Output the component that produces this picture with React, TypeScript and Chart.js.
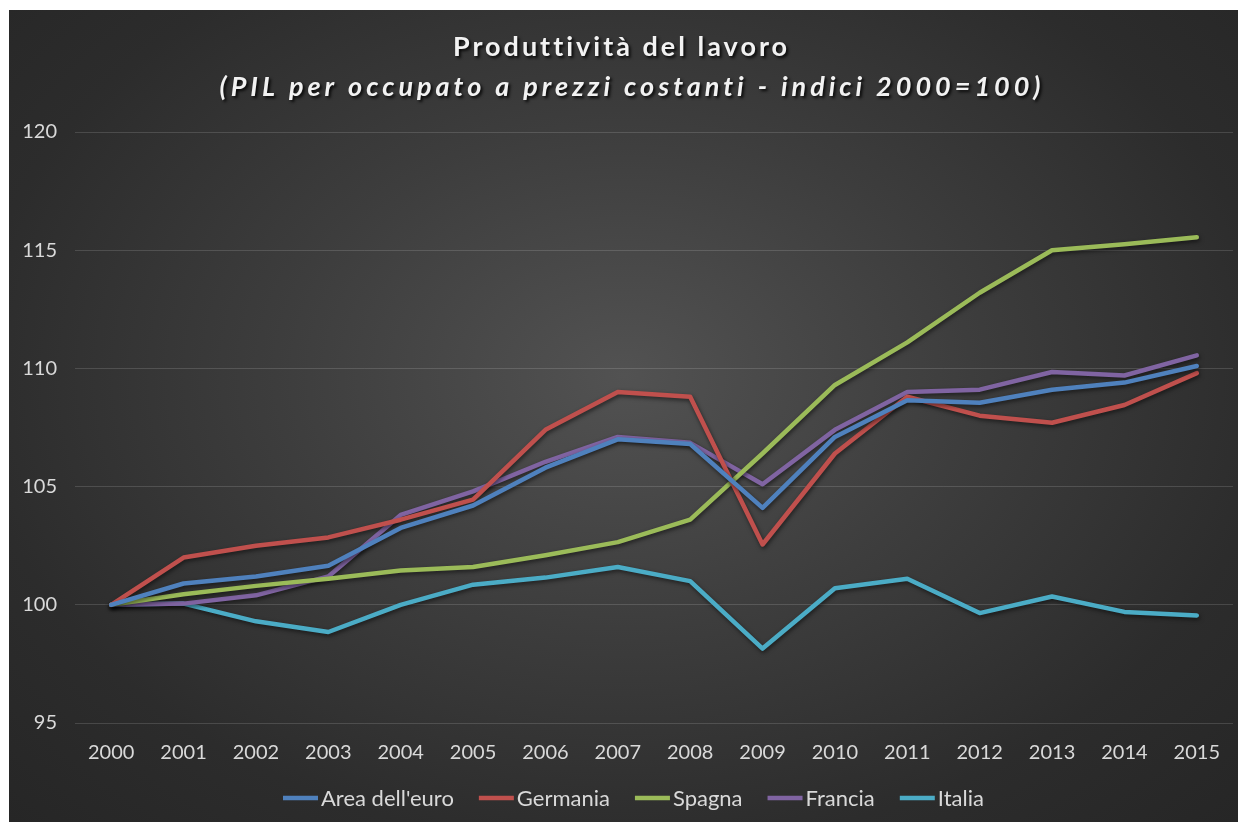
import React, { useEffect, useRef } from "react";
import { Chart, registerables } from "chart.js";

Chart.register(...registerables);

const titleText = "Produttività del lavoro";
const subtitleText = "(PIL per occupato a prezzi costanti - indici 2000=100)";

const years = ["2000", "2001", "2002", "2003", "2004", "2005", "2006", "2007", "2008", "2009", "2010", "2011", "2012", "2013", "2014", "2015"];

const areaEuro = [100, 100.9, 101.2, 101.65, 103.25, 104.2, 105.8, 107.0, 106.8, 104.1, 107.1, 108.65, 108.55, 109.1, 109.4, 110.1];
const germania = [100, 102.0, 102.5, 102.85, 103.6, 104.45, 107.4, 109.0, 108.8, 102.55, 106.4, 108.8, 108.0, 107.7, 108.45, 109.8];
const spagna = [100, 100.45, 100.8, 101.1, 101.45, 101.6, 102.1, 102.65, 103.6, 106.4, 109.3, 111.1, 113.2, 115.0, 115.25, 115.55];
const francia = [100, 100.05, 100.4, 101.2, 103.8, 104.8, 106.05, 107.1, 106.85, 105.1, 107.4, 109.0, 109.1, 109.85, 109.7, 110.55];
const italia = [100, 100.05, 99.3, 98.85, 100.0, 100.85, 101.15, 101.6, 101.0, 98.15, 100.7, 101.1, 99.65, 100.35, 99.7, 99.55];

const seriesNames = ["Area dell'euro", "Germania", "Spagna", "Francia", "Italia"];
const seriesColors = ["#4F81BD", "#C0504D", "#9BBB59", "#8064A2", "#4BACC6"];

const yTicks = [95, 100, 105, 110, 115, 120];

const FONT = "Lato, 'Open Sans', sans-serif";

const titlePlugin = {
  id: "customTitle",
  afterDraw(chart: any) {
    const ctx = chart.ctx as CanvasRenderingContext2D;
    ctx.save();
    ctx.fillStyle = "#f2f2f2";
    ctx.shadowColor = "rgba(0,0,0,0.85)";
    ctx.shadowBlur = 3;
    ctx.shadowOffsetX = 2;
    ctx.shadowOffsetY = 2;
    ctx.textAlign = "left";
    ctx.textBaseline = "middle";

    ctx.font = `bold 27px ${FONT}`;
    (ctx as any).letterSpacing = "3px";
    let w = ctx.measureText(titleText).width - 3;
    ctx.fillText(titleText, 611 - w / 2, 37);

    ctx.font = `italic bold 27px ${FONT}`;
    (ctx as any).letterSpacing = "4px";
    w = ctx.measureText(subtitleText).width - 4;
    ctx.fillText(subtitleText, 621 - w / 2, 77);
    ctx.restore();
  },
};

const legendPlugin = {
  id: "customLegend",
  afterDraw(chart: any) {
    const ctx = chart.ctx as CanvasRenderingContext2D;
    const datasets = chart.data.datasets;
    const markerW = 35;
    const markerGap = 3;
    const itemGap = 25;
    const y = 788;
    ctx.save();
    ctx.font = `22px ${FONT}`;
    let x = 274;
    datasets.forEach((d: any) => {
      ctx.strokeStyle = d.borderColor;
      ctx.lineWidth = 4.5;
      ctx.lineCap = "butt";
      ctx.beginPath();
      ctx.moveTo(x, y);
      ctx.lineTo(x + markerW, y);
      ctx.stroke();
      ctx.fillStyle = "#d9d9d9";
      ctx.textAlign = "left";
      ctx.textBaseline = "middle";
      ctx.fillText(d.label, x + markerW + markerGap, y + 1);
      x += markerW + markerGap + ctx.measureText(d.label).width + itemGap;
    });
    ctx.restore();
  },
};

const shadowPlugin = {
  id: "lineShadow",
  beforeDatasetDraw(chart: any) {
    const ctx = chart.ctx as CanvasRenderingContext2D;
    ctx.save();
    ctx.shadowColor = "rgba(0,0,0,0.55)";
    ctx.shadowBlur = 4;
    ctx.shadowOffsetX = 1;
    ctx.shadowOffsetY = 2;
  },
  afterDatasetDraw(chart: any) {
    chart.ctx.restore();
  },
};

export default function App() {
  const canvasRef = useRef<HTMLCanvasElement | null>(null);

  useEffect(() => {
    if (!canvasRef.current) return;
    const values = [areaEuro, germania, spagna, francia, italia];
    const chart = new Chart(canvasRef.current, {
      type: "line",
      data: {
        labels: years,
        datasets: values.map((v, i) => ({
          label: seriesNames[i],
          data: v,
          borderColor: seriesColors[i],
          backgroundColor: seriesColors[i],
          borderWidth: 4.5,
          pointRadius: 0,
          tension: 0,
          borderJoinStyle: "round" as const,
          borderCapStyle: "round" as const,
          fill: false,
        })),
      },
      options: {
        animation: false,
        responsive: true,
        maintainAspectRatio: false,
        layout: { padding: { top: 122, bottom: 39, left: 0, right: 0 } },
        plugins: {
          legend: { display: false },
          title: { display: false },
          tooltip: { enabled: false },
        },
        scales: {
          x: {
            offset: true,
            grid: { display: false, drawTicks: false },
            border: { display: false },
            ticks: {
              color: "#d9d9d9",
              font: { family: FONT, size: 20 },
              padding: 18,
              maxRotation: 0,
              autoSkip: false,
            },
            afterFit(scale: any) {
              scale.height = 60;
            },
          },
          y: {
            min: 95,
            max: 120,
            afterBuildTicks(scale: any) {
              scale.ticks = yTicks.map((v) => ({ value: v }));
            },
            grid: { color: "rgba(255,255,255,0.14)", lineWidth: 1, drawTicks: false },
            border: { display: false },
            ticks: {
              color: "#d9d9d9",
              font: { family: FONT, size: 20 },
              padding: 18,
            },
            afterFit(scale: any) {
              scale.width = 66;
            },
          },
        },
      },
      plugins: [shadowPlugin, titlePlugin, legendPlugin],
    });
    return () => chart.destroy();
  }, []);

  return (
    <div
      style={{
        position: "absolute",
        left: 9,
        top: 10,
        width: 1229,
        height: 812,
        background:
          "radial-gradient(ellipse at 50% 45%, #525252 0%, #3d3d3d 40%, #2c2c2c 75%, #262626 100%)",
      }}
    >
      <canvas ref={canvasRef} />
    </div>
  );
}
